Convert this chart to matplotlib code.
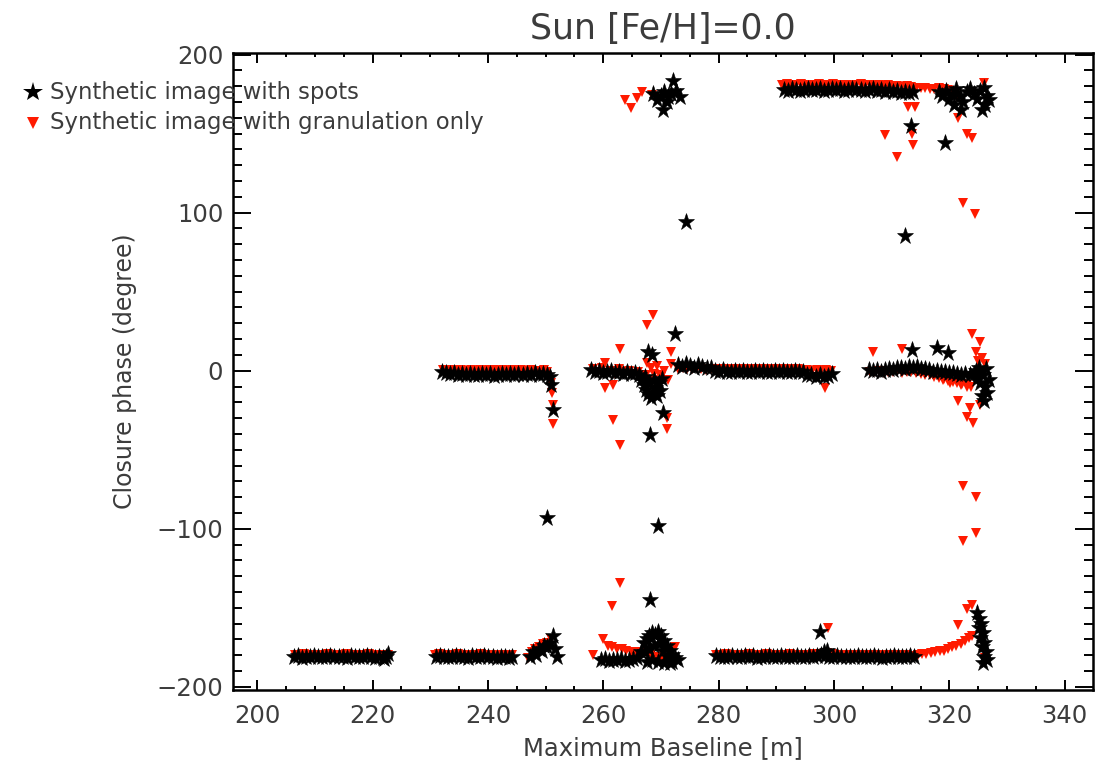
"""Closure phase vs maximum baseline for the Sun model, spots vs granulation only."""

import matplotlib

matplotlib.use("Agg")
import matplotlib.pyplot as plt
from matplotlib.lines import Line2D
from matplotlib.ticker import MultipleLocator

TITLE = "Sun [Fe/H]=0.0"
XLABEL = "Maximum Baseline [m]"
YLABEL = "Closure phase (degree)"
LABEL_SPOTS = "Synthetic image with spots"
LABEL_GRAN = "Synthetic image with granulation only"

# --- synthetic image with spots (black stars) -------------------------------
spots_bottom_x = [
    206.4, 207.1, 207.8, 208.5, 209.2, 209.9, 210.6, 211.3, 212.0, 212.7, 213.4, 214.1,
    214.8, 215.5, 216.2, 216.9, 217.6, 218.3, 219.0, 219.7, 220.4, 221.1, 221.8, 222.4,
    222.0, 222.6,
    231.0, 231.7, 232.4, 233.1, 233.8, 234.5, 235.2, 235.9, 236.6, 237.3, 238.0, 238.7,
    239.4, 240.1, 240.8, 241.5, 242.2, 242.9, 243.6, 244.2,
    247.3, 247.8, 248.3, 248.8, 249.3, 249.8, 250.3, 250.8, 251.2, 251.6, 251.9,
    259.6, 260.3, 261.0, 261.7, 262.4, 263.1, 263.8, 264.5, 265.2, 265.9,
    266.5, 267.0, 267.5, 268.0, 268.5, 269.0, 269.5, 270.0, 270.5, 271.0, 271.5, 272.0,
    272.5, 273.0, 267.3, 268.0, 268.8, 269.6, 270.4, 271.2, 272.0, 267.5, 268.5, 269.5,
    270.5, 271.5,
    250.3, 269.5, 268.1,
    279.6, 280.3, 281.0, 281.7, 282.4, 283.1, 283.8, 284.5, 285.2, 285.9, 286.6, 287.3,
    288.0, 288.7, 289.4, 290.1, 290.8, 291.5, 292.2, 292.9, 293.6, 294.3, 295.0, 295.7,
    296.4, 297.1, 297.8, 298.5, 299.2, 299.9, 300.6, 301.3, 302.0, 302.7, 303.4, 304.1,
    304.8, 305.5, 306.2, 306.9, 307.6, 308.3, 309.0, 309.7, 310.4, 311.1, 311.8, 312.5,
    313.2, 313.9,
    297.6, 298.2, 298.8,
    324.8, 325.2, 325.5, 325.2, 325.8, 325.4, 326.0, 325.6, 326.3, 326.0, 326.6, 325.9,
]
spots_bottom_y = [
    -181.0, -180.5, -181.5, -180.8, -181.2, -180.6, -181.4, -180.9, -181.1, -180.7, -181.3, -180.8,
    -181.0, -181.5, -180.6, -181.2, -180.9, -181.4, -180.7, -181.1, -181.6, -180.8, -181.9, -181.3,
    -182.5, -179.5,
    -181.2, -180.6, -181.4, -180.9, -181.1, -180.5, -181.3, -180.8, -181.6, -180.7, -181.0, -181.4,
    -180.6, -181.2, -180.9, -181.5, -180.8, -181.1, -181.7, -181.0,
    -181.0, -178.0, -180.0, -176.0, -177.0, -174.0, -175.0, -172.0, -168.0, -176.0, -181.0,
    -183.0, -182.5, -183.4, -182.8, -183.2, -182.6, -183.5, -182.9, -182.2, -181.5,
    -178.0, -172.0, -170.0, -168.0, -166.0, -167.0, -165.0, -168.0, -171.0, -174.0, -177.0, -180.0,
    -182.0, -183.0, -178.0, -176.0, -174.0, -173.0, -177.0, -181.0, -184.0, -184.0, -183.0, -184.0,
    -185.0, -185.0,
    -93.0, -98.0, -145.0,
    -180.6, -181.2, -180.8, -181.4, -180.5, -181.0, -181.3, -180.7, -181.1, -180.6, -181.5, -180.9,
    -181.2, -180.7, -181.0, -181.4, -180.6, -181.1, -180.8, -181.3, -180.5, -181.0, -181.2, -180.4,
    -180.9, -180.2, -179.6, -180.3, -180.8, -181.1, -180.7, -181.3, -180.9, -181.0, -181.4, -180.6,
    -181.1, -180.8, -181.3, -180.7, -181.0, -181.5, -180.8, -181.2, -180.6, -181.1, -180.9, -181.4,
    -180.7, -181.0,
    -165.0, -178.0, -177.5,
    -153.0, -157.0, -160.0, -163.0, -166.0, -169.0, -172.0, -175.0, -178.0, -181.0, -183.0, -185.0,
]

spots_middle_x = [
    232.0, 232.7, 233.4, 234.1, 234.8, 235.5, 236.2, 236.9, 237.6, 238.3, 239.0, 239.7,
    240.4, 241.1, 241.8, 242.5, 243.2, 243.9, 244.6, 245.3, 246.0, 246.7, 247.4, 248.1,
    248.8, 249.5, 250.2,
    250.7, 251.0, 251.2,
    257.8, 258.5, 259.2, 259.9, 260.6, 261.3, 262.0, 262.7, 263.4, 264.1, 264.8, 265.5,
    266.2,
    266.6, 267.0, 267.4, 267.8, 268.2, 268.6, 269.0, 269.4, 269.8, 267.2, 268.0, 268.8,
    269.6, 270.2,
    267.8, 268.4, 272.4, 270.4, 268.1,
    273.0, 273.7, 274.4, 275.1, 275.8, 276.5, 277.2, 277.9, 278.6,
    279.3, 280.0, 280.7, 281.4, 282.1, 282.8, 283.5, 284.2, 284.9, 285.6, 286.3, 287.0,
    287.7, 288.4, 289.1, 289.8, 290.5, 291.2, 291.9, 292.6, 293.3, 294.0, 294.7, 295.4,
    296.1, 296.8, 297.5, 298.2, 298.9, 299.6,
    306.0, 306.7, 307.4, 308.1, 308.8, 309.5, 310.2, 310.9, 311.6, 312.3, 313.0, 313.7,
    314.4, 315.1, 315.8, 316.5, 317.2, 317.9, 318.6, 319.3, 320.0, 320.7, 321.4, 322.1,
    322.8, 323.5,
    324.2, 324.8, 325.3, 325.8, 326.2, 326.5, 325.6, 326.8, 326.0, 324.6, 325.2, 326.3,
    313.5, 317.9, 319.8,
]
spots_middle_y = [
    -0.5, -1.5, -2.0, -1.2, -2.5, -1.8, -2.8, -2.2, -3.0, -2.4, -1.9, -2.7,
    -2.1, -3.1, -2.5, -1.8, -2.9, -2.3, -2.6, -1.9, -3.0, -2.2, -2.7, -1.6,
    -2.4, -1.8, -2.6,
    -4.0, -9.0, -25.0,
    0.5, -1.0, -0.3, -1.5, -0.8, -0.2, -1.2, -0.6, -1.8, -0.9, -2.0, -1.4,
    -2.5,
    -6.0, -9.0, -12.0, -15.0, -17.0, -14.0, -11.0, -16.0, -13.0, -4.0, -8.0, -6.0,
    -8.0, -5.0,
    12.0, 10.0, 23.0, -27.0, -40.5,
    3.5, 2.5, 4.0, 3.0, 2.0, 3.5, 2.5, 1.5, 2.0,
    -0.3, -0.8, 0.2, -0.5, -1.0, -0.2, -0.7, 0.1, -0.6, -0.9, -0.3, -0.8,
    -0.1, -0.6, -1.0, -0.4, -0.7, -0.2, -0.9, -0.5, -0.3, -0.8, -1.1, -2.5,
    -3.0, -3.8, -2.6, -4.0, -3.2, -2.0,
    0.5, -0.3, 0.2, -0.6, 0.4, 1.0, 0.3, 1.5, 2.0, 1.2, 2.5, 1.8,
    2.2, 1.4, 0.8, 0.2, -0.5, -0.2, -1.0, -0.6, -1.5, -1.2, -2.0, -2.5,
    -1.8, -3.0,
    -2.0, -5.0, -8.0, -3.0, -10.0, -14.0, -16.0, -6.0, -19.0, 0.0, 2.0, 1.0,
    13.0, 14.6, 11.0,
]

spots_top_x = [
    269.3, 270.0, 270.6, 271.2, 271.8, 272.1, 272.6, 273.3, 268.6, 270.4, 271.0,
    274.4,
    291.3, 292.0, 292.7, 293.4, 294.1, 294.8, 295.5, 296.2, 296.9, 297.6, 298.3, 299.0,
    299.7, 300.4, 301.1, 301.8, 302.5, 303.2, 303.9, 304.6, 305.3, 306.0, 306.7, 307.4,
    308.1, 308.8, 309.5, 310.2, 310.9, 311.6, 312.3, 313.0, 313.7,
    318.2, 318.8, 319.4, 320.0, 320.6, 321.2, 321.8, 322.4, 323.0, 323.6, 324.2, 324.8,
    325.4, 326.0, 326.5, 326.2, 325.6, 326.8, 322.0, 320.8,
    313.3, 319.2, 312.3,
]
spots_top_y = [
    171.5, 174.0, 176.0, 173.0, 175.0, 183.0, 177.0, 173.0, 175.0, 165.0, 170.0,
    94.0,
    177.8, 177.2, 178.3, 177.5, 176.9, 177.8, 178.1, 177.3, 177.6, 178.2, 177.0, 177.7,
    178.0, 177.4, 177.9, 177.1, 177.6, 178.2, 177.3, 177.8, 176.8, 177.5, 178.0, 177.2,
    177.6, 176.6, 177.4, 176.2, 177.0, 175.8, 176.6, 175.4, 176.2,
    176.0, 174.0, 177.0, 172.0, 175.0, 178.0, 174.0, 170.0, 176.0, 178.0, 175.0, 172.0,
    177.0, 179.0, 174.0, 168.0, 165.0, 171.0, 165.0, 168.0,
    155.0, 144.0, 85.0,
]

# --- synthetic image with granulation only (red triangles) ------------------
gran_bottom_x = [
    206.6, 207.4, 208.2, 209.0, 209.8, 210.6, 211.4, 212.2, 213.0, 213.8, 214.6, 215.4,
    216.2, 217.0, 217.8, 218.6, 219.4, 220.2, 221.0, 221.8, 222.6,
    230.8, 231.6, 232.4, 233.2, 234.0, 234.8, 235.6, 236.4, 237.2, 238.0, 238.8, 239.6,
    240.4, 241.2, 242.0, 242.8, 243.6, 244.2,
    247.0, 247.6, 248.2, 248.8, 249.5, 250.2, 250.9,
    258.2, 260.0, 260.8, 261.5, 262.3, 263.2, 264.0, 264.8, 265.6, 266.4,
    267.6, 268.3, 269.0, 269.8, 270.5, 272.4,
    262.9, 261.6,
    279.6, 280.4, 281.2, 282.0, 282.8, 283.6, 284.4, 285.2, 286.0, 286.8, 287.6, 288.4,
    289.2, 290.0, 290.8, 291.6, 292.4, 293.2, 294.0, 294.8, 295.6, 296.4, 297.2, 298.0,
    298.8, 299.6, 300.4, 301.2, 302.0, 302.8, 303.6, 304.4, 305.2, 306.0, 306.8, 307.6,
    308.4, 309.2, 310.0, 310.8, 311.6, 312.4, 313.2,
    314.5, 315.3, 316.0, 316.8, 317.5, 318.3, 319.0, 319.8, 320.5, 321.2, 322.0, 322.7,
    323.4, 324.0,
    299.0,
    323.9, 323.0, 321.5, 326.2, 322.4, 324.6, 324.6, 322.4,
]
gran_bottom_y = [
    -179.6, -179.9, -179.5, -179.8, -179.6, -180.0, -179.7, -179.4, -179.9, -179.6, -180.0, -179.5,
    -179.8, -179.6, -180.0, -179.7, -179.5, -179.9, -179.6, -180.0, -179.8,
    -179.7, -179.5, -180.0, -179.6, -179.8, -179.4, -179.9, -179.6, -180.0, -179.7, -179.5, -179.8,
    -179.6, -180.0, -179.6, -179.8, -179.7, -180.1,
    -182.0, -178.0, -176.0, -175.0, -173.0, -172.0, -170.0,
    -180.0, -170.0, -174.0, -175.0, -176.0, -176.0, -177.0, -178.0, -178.0, -179.0,
    -178.0, -180.0, -181.0, -181.0, -183.0, -175.0,
    -134.0, -149.0,
    -179.6, -180.0, -179.5, -179.8, -179.6, -180.0, -179.7, -179.4, -179.9, -179.6, -180.0, -179.5,
    -179.8, -179.6, -180.0, -179.7, -179.5, -179.9, -179.6, -180.0, -179.8, -179.5, -179.7, -179.2,
    -178.8, -179.4, -179.7, -180.0, -179.6, -179.8, -179.6, -180.0, -179.7, -179.9, -179.6, -179.8,
    -180.0, -179.6, -179.9, -180.1, -179.8, -180.0, -180.2,
    -180.0, -179.5, -179.0, -178.5, -178.0, -177.0, -177.0, -176.0, -175.0, -174.0, -173.0, -171.0,
    -169.0, -168.0,
    -163.0,
    -148.0, -151.0, -161.0, -182.0, -107.6, -102.5, -80.0, -73.0,
]

gran_middle_x = [
    232.2, 233.0, 233.8, 234.6, 235.4, 236.2, 237.0, 237.8, 238.6, 239.4, 240.2, 241.0,
    241.8, 242.6, 243.4, 244.2, 245.0, 245.8, 246.6, 247.4, 248.2, 249.0, 249.8, 250.2,
    250.9, 251.1, 251.2, 251.3,
    258.2, 259.0, 259.8, 260.3, 260.3, 261.7, 261.2, 262.0, 262.8, 263.6, 264.4, 265.2,
    266.0,
    267.6, 268.2, 268.8, 269.4, 270.0, 270.6, 271.2, 271.8, 267.4, 268.6, 269.8,
    262.9, 261.7, 262.9, 267.6, 268.6, 271.8, 271.0, 271.0,
    273.0, 273.8, 274.6, 275.4, 276.2, 277.0, 277.8, 278.6, 279.4, 280.2, 281.0, 281.8,
    282.6, 283.4, 284.2, 285.0, 285.8, 286.6, 287.4, 288.2, 289.0, 289.8, 290.6, 291.4,
    292.2, 293.0, 293.8, 294.6, 295.4, 296.2, 297.0, 297.8, 298.6, 299.4,
    298.4,
    306.2, 307.0, 307.8, 308.6, 309.4, 310.2, 311.0, 311.8, 312.6, 313.4, 314.2, 315.0,
    315.8, 316.6, 317.4, 318.2, 319.0, 319.8, 320.6, 321.4, 322.2, 323.0, 323.8,
    306.8, 311.8, 323.9, 325.3, 324.6, 325.6, 326.2, 325.0, 318.9, 320.2, 321.5, 323.6,
    323.0, 324.1, 325.3, 322.0, 323.0,
]
gran_middle_y = [
    0.2, -0.2, 0.5, 0.0, 0.3, -0.3, 0.4, 0.1, 0.6, -0.1, 0.2, 0.5,
    -0.2, 0.3, 0.0, 0.4, -0.3, 0.2, -0.1, 0.5, 0.1, -0.2, 0.3, -0.5,
    -8.0, -14.0, -22.0, -34.0,
    1.0, -1.0, 2.0, 5.0, -11.0, -9.0, 0.0, -2.0, 1.0, -1.0, 0.0, -2.0,
    -1.0,
    5.0, 2.0, -2.0, 3.0, -4.0, 0.0, -6.0, 4.0, -3.0, -6.0, -3.0,
    14.0, -31.0, -47.0, 29.0, 35.0, 12.0, -30.0, -37.0,
    1.0, 1.6, 1.3, 0.8, 1.5, 1.1, 0.7, 1.4, 0.9, 1.2, 0.8, 1.0,
    1.4, 0.9, 1.1, 0.7, 1.3, 0.9, 0.8, 1.2, 1.0, 0.6, 1.1, 0.9,
    1.3, 0.8, 1.0, 0.7, 0.4, 0.0, 0.5, -0.2, 0.2, 0.1,
    -11.0,
    -0.5, -1.0, -0.3, -1.2, -0.6, -1.0, -0.4, -1.3, -0.8, -1.1, -1.5, -2.0,
    -2.6, -3.0, -3.8, -4.5, -5.5, -6.2, -7.0, -7.8, -8.5, -9.0, -10.0,
    12.0, 14.0, 23.0, 18.0, 12.0, 8.0, 4.0, 6.0, -6.0, -8.0, -19.0, -23.4,
    -29.0, -33.0, -21.5, -9.0, -10.0,
]

gran_top_x = [
    263.8, 264.8, 265.9, 266.7, 268.5,
    291.0, 291.8, 292.6, 293.4, 294.2, 295.0, 295.8, 296.6, 297.4, 298.2, 299.0, 299.8,
    300.6, 301.4, 302.2, 303.0, 303.8, 304.6, 305.4, 306.2, 307.0, 307.8, 308.6, 309.4,
    310.2, 311.0, 311.8, 312.6, 313.4, 314.2, 315.0, 315.8, 316.6, 317.4, 318.2, 319.0,
    319.8, 320.6, 321.3,
    308.8, 310.9, 312.8, 314.0, 313.5, 313.7, 321.5, 323.0, 324.0, 326.0, 322.4, 324.4,
]
gran_top_y = [
    171.5, 166.0, 172.8, 176.0, 174.7,
    180.8, 181.1, 180.5, 180.9, 181.2, 180.6, 181.0, 180.7, 181.1, 180.5, 180.9, 181.2,
    180.6, 181.0, 180.8, 180.4, 180.9, 181.1, 180.6, 180.8, 180.3, 180.7, 180.1, 180.5,
    179.9, 180.2, 179.5, 179.8, 179.3, 179.0, 178.7, 178.9, 178.5, 178.2, 178.6, 177.9,
    177.7, 177.2, 173.0,
    149.0, 135.0, 167.0, 167.0, 150.0, 143.0, 160.0, 150.0, 147.0, 182.0, 106.0, 99.0,
]

TEXT_COLOR = "#3c3c3c"
RED = "#ff1a00"

fig = plt.figure(figsize=(11.13, 7.71), dpi=100)
ax = fig.add_axes([0.2093, 0.105, 0.7727, 0.8263])

ax.plot(gran_bottom_x + gran_middle_x + gran_top_x,
        gran_bottom_y + gran_middle_y + gran_top_y,
        ls="none", marker="v", ms=7.5, color=RED, mew=0, zorder=2)
ax.plot(spots_bottom_x + spots_middle_x + spots_top_x,
        spots_bottom_y + spots_middle_y + spots_top_y,
        ls="none", marker="*", ms=12.5, color="black", mew=0.4, mec="black", zorder=3)

ax.set_xlim(195.8, 344.9)
ax.set_ylim(-202, 201)
ax.xaxis.set_major_locator(MultipleLocator(20))
ax.xaxis.set_minor_locator(MultipleLocator(5))
ax.yaxis.set_major_locator(MultipleLocator(100))
ax.yaxis.set_minor_locator(MultipleLocator(10))

ax.tick_params(axis="both", which="both", direction="in", top=True, right=True,
               width=1.4, colors="black", labelcolor=TEXT_COLOR, labelsize=17.5)
ax.tick_params(axis="x", which="major", length=7.5, pad=10)
ax.tick_params(axis="x", which="minor", length=3)
ax.tick_params(axis="y", which="major", length=13, pad=7)
ax.tick_params(axis="y", which="minor", length=6.5)
for spine in ax.spines.values():
    spine.set_linewidth(1.8)

ax.set_xlabel(XLABEL, fontsize=17.5, color=TEXT_COLOR, labelpad=6)
ax.set_ylabel(YLABEL, fontsize=17, color=TEXT_COLOR, labelpad=14)
ax.set_title(TITLE, fontsize=25, color=TEXT_COLOR, pad=10)

# legend drawn in figure coords, sitting over the left spine like the original
W, H = 1113.0, 771.0
for (py, marker, ms, color, text) in [
    (92, "*", 15, "black", LABEL_SPOTS),
    (123, "v", 9, RED, LABEL_GRAN),
]:
    fig.add_artist(Line2D([33 / W], [1 - py / H], transform=fig.transFigure,
                          ls="none", marker=marker, ms=ms, color=color, mew=0))
    fig.text(50 / W, 1 - py / H, text, fontsize=16.4, color=TEXT_COLOR,
             ha="left", va="center")

fig.savefig("out.png", dpi=100, facecolor="white")
